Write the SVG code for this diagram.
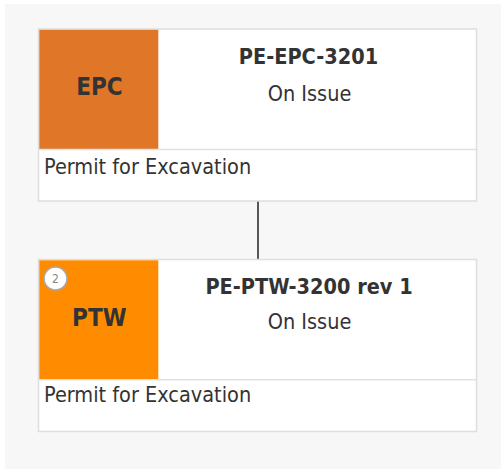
<svg xmlns="http://www.w3.org/2000/svg" width="501" height="469" viewBox="0 0 501 469">
<style>
text{font-family:"DejaVu Sans Condensed","DejaVu Sans",sans-serif;font-stretch:condensed;fill:#333;}
.card{fill:#fff;stroke:#dedede;stroke-width:1.5;}
.div{stroke:#e2e2e2;stroke-width:1.5;}
.title{font-size:21.5px;font-weight:bold;text-anchor:middle;}
.status{font-size:21.5px;text-anchor:middle;}
.tag{font-size:24px;font-weight:bold;text-anchor:middle;}
.desc{font-size:21.5px;}
.conn{stroke:#222;stroke-width:1.5;fill:none;}
</style>
<rect x="0" y="0" width="501" height="469" fill="#ffffff"/>
<rect x="5" y="4" width="496" height="465" fill="#f7f7f7"/>
<g id="connectors">
<line class="conn" x1="258" y1="201" x2="258" y2="259.5"/>
</g>
<g id="node-epc">
<rect class="card" x="38.5" y="29" width="438" height="172"/>
<rect x="39.3" y="29.8" width="119" height="119.5" fill="#e07628"/>
<line class="div" x1="39" y1="149.5" x2="476" y2="149.5"/>
<text class="tag" x="99.5" y="95">EPC</text>
<text class="title" x="308.5" y="64.3">PE-EPC-3201</text>
<text class="status" x="309.5" y="100.7">On Issue</text>
<text class="desc" x="44" y="174">Permit for Excavation</text>
</g>
<g id="node-ptw">
<rect class="card" x="38.5" y="259.5" width="438" height="172"/>
<rect x="39.3" y="260.3" width="119" height="119" fill="#ff8c00"/>
<line class="div" x1="39" y1="379.8" x2="476" y2="379.8"/>
<circle cx="55.5" cy="278.5" r="11.5" fill="#fff" stroke="#a8a8a8" stroke-width="1.5"/>
<text x="55.5" y="282.8" font-size="12px" text-anchor="middle" style="fill:#888">2</text>
<text class="tag" x="99.3" y="326">PTW</text>
<text class="title" x="309" y="294">PE-PTW-3200 rev 1</text>
<text class="status" x="309.5" y="329">On Issue</text>
<text class="desc" x="44" y="402">Permit for Excavation</text>
</g>
</svg>
